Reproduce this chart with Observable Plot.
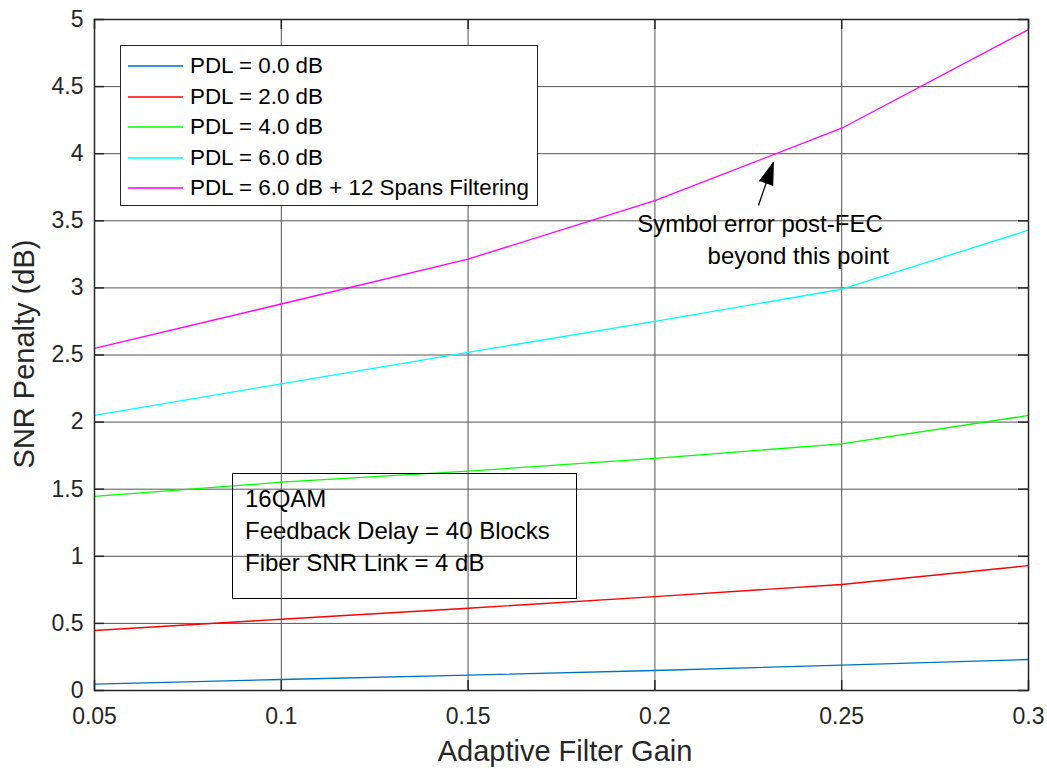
<!DOCTYPE html>
<html>
<head>
<meta charset="utf-8">
<script src="https://cdn.jsdelivr.net/npm/d3@7"></script>
<script src="https://cdn.jsdelivr.net/npm/@observablehq/plot@0.6"></script>
<style>
  body { margin: 0; background: #fff; }
  #wrap { position: relative; width: 1047px; height: 769px; font-family: "Liberation Sans", Arial, Helvetica, sans-serif; }
  #legend { position: absolute; left: 120px; top: 45px; width: 418px; height: 161px; border: 1px solid #262626; background: #fff; box-sizing: border-box; }
  .row { position: absolute; left: 0; height: 30px; display: flex; align-items: center; font-size: 22.4px; color: #000; white-space: nowrap; }
  .row svg { margin-left: 7px; margin-right: 7px; }
  #note { position: absolute; left: 232px; top: 473px; width: 345px; height: 126px; border: 1px solid #000; box-sizing: border-box; font-size: 24px; color: #000; }
  #note div { position: absolute; left: 12px; white-space: nowrap; line-height: 32px; }
  .axlab { position: absolute; font-size: 29px; color: #262626; white-space: nowrap; line-height: 1; }
</style>
</head>
<body>
<div id="wrap"></div>
<script>
const xs = [0.05, 0.1, 0.15, 0.2, 0.25, 0.3];
const seriesNames = ["PDL = 0.0 dB", "PDL = 2.0 dB", "PDL = 4.0 dB", "PDL = 6.0 dB", "PDL = 6.0 dB + 12 Spans Filtering"];
const seriesColors = ["#0072BD", "#FF0000", "#00FF00", "#00FFFF", "#FF00FF"];
const pdl0 = [0.047, 0.082, 0.114, 0.149, 0.189, 0.231];
const pdl2 = [0.447, 0.531, 0.613, 0.700, 0.790, 0.930];
const pdl4 = [1.446, 1.552, 1.634, 1.730, 1.838, 2.050];
const pdl6 = [2.050, 2.285, 2.520, 2.750, 2.990, 3.430];
const pdl6f = [2.550, 2.880, 3.215, 3.650, 4.190, 4.925];
const xTicks = [0.05, 0.1, 0.15, 0.2, 0.25, 0.3];
const xTickLabels = ["0.05", "0.1", "0.15", "0.2", "0.25", "0.3"];
const yTicks = [0, 0.5, 1, 1.5, 2, 2.5, 3, 3.5, 4, 4.5, 5];
const yTickLabels = ["0", "0.5", "1", "1.5", "2", "2.5", "3", "3.5", "4", "4.5", "5"];
const xLabel = "Adaptive Filter Gain";
const yLabel = "SNR Penalty (dB)";
const noteLines = ["16QAM", "Feedback Delay = 40 Blocks", "Fiber SNR Link = 4 dB"];
const annotLines = ["Symbol error post-FEC", "beyond this point"];
const annotX = [0.1953, 0.2141];
const annotY = [3.472, 3.234];
const arrowTail = {x: 0.2277, y: 3.614};
const arrowTip = {x: 0.2317, y: 3.934};

const allSeries = [pdl0, pdl2, pdl4, pdl6, pdl6f];
const table = [];
allSeries.forEach((vals, i) => vals.forEach((v, j) => table.push({x: xs[j], y: v, s: seriesNames[i]})));

const font = '"Liberation Sans", Arial, Helvetica, sans-serif';
const tickLen = 10 / 134.2;   // inner tick length in y units
const tickLenX = 10 / 3736;   // inner tick length in x units

const chart = Plot.plot({
  width: 1047,
  height: 769,
  marginLeft: 94,
  marginRight: 19,
  marginTop: 19,
  marginBottom: 79,
  style: {fontFamily: font, background: "#fff", color: "#000"},
  x: {domain: [0.05, 0.3]},
  y: {domain: [0, 5]},
  color: {domain: seriesNames, range: seriesColors},
  marks: [
    Plot.ruleX(xTicks, {stroke: "#545454", strokeWidth: 1}),
    Plot.ruleY(yTicks, {stroke: "#545454", strokeWidth: 1}),
    Plot.line(table, {x: "x", y: "y", z: "s", stroke: "s", strokeWidth: 1.3}),
    Plot.ruleX(xTicks, {y1: 0, y2: tickLen, stroke: "#262626", strokeWidth: 1.5}),
    Plot.ruleX(xTicks, {y1: 5 - tickLen, y2: 5, stroke: "#262626", strokeWidth: 1.5}),
    Plot.ruleY(yTicks, {x1: 0.05, x2: 0.05 + tickLenX, stroke: "#262626", strokeWidth: 1.5}),
    Plot.ruleY(yTicks, {x1: 0.3 - tickLenX, x2: 0.3, stroke: "#262626", strokeWidth: 1.5}),
    Plot.frame({stroke: "#262626", strokeWidth: 1.5}),
    Plot.axisX(xTicks, {tickSize: 0, tickPadding: 17, fontSize: 23, tickFormat: (d, i) => xTickLabels[i], label: null, fill: "#262626"}),
    Plot.axisY(yTicks, {tickSize: 0, tickPadding: 11, fontSize: 23, tickFormat: (d, i) => yTickLabels[i], label: null, fill: "#262626"}),
    Plot.text(annotLines, {x: (d, i) => annotX[i], y: (d, i) => annotY[i], text: d => d, textAnchor: "start", fontSize: 24, fill: "#000"}),
    Plot.link([arrowTail], {x1: "x", y1: "y", x2: () => arrowTip.x, y2: () => arrowTip.y, stroke: "#000", strokeWidth: 1.3}),
    Plot.vector([arrowTip], {x: "x", y: "y", length: 22, rotate: 19, shape: "spike", r: 7, anchor: "end", fill: "#000", stroke: "#000", strokeWidth: 1})
  ]
});

const wrap = document.getElementById("wrap");
wrap.appendChild(chart);

// axis titles
const xl = document.createElement("div");
xl.className = "axlab";
xl.textContent = xLabel;
xl.style.left = "565px";
xl.style.top = "751px";
xl.style.transform = "translate(-50%, -50%)";
wrap.appendChild(xl);

const yl = document.createElement("div");
yl.className = "axlab";
yl.textContent = yLabel;
yl.style.left = "24px";
yl.style.top = "354px";
yl.style.transform = "translate(-50%, -50%) rotate(-90deg)";
wrap.appendChild(yl);

// legend
const legend = document.createElement("div");
legend.id = "legend";
seriesNames.forEach((name, i) => {
  const row = document.createElement("div");
  row.className = "row";
  row.style.top = (5 + i * 30.5) + "px";
  const svgNS = "http://www.w3.org/2000/svg";
  const sw = document.createElementNS(svgNS, "svg");
  sw.setAttribute("width", "55");
  sw.setAttribute("height", "4");
  const ln = document.createElementNS(svgNS, "line");
  ln.setAttribute("x1", "0"); ln.setAttribute("x2", "55");
  ln.setAttribute("y1", "2"); ln.setAttribute("y2", "2");
  ln.setAttribute("stroke", seriesColors[i]);
  ln.setAttribute("stroke-width", "1.3");
  sw.appendChild(ln);
  const tx = document.createElement("span");
  tx.textContent = name;
  row.appendChild(sw);
  row.appendChild(tx);
  legend.appendChild(row);
});
wrap.appendChild(legend);

// annotation box
const note = document.createElement("div");
note.id = "note";
noteLines.forEach((t, i) => {
  const d = document.createElement("div");
  d.style.top = (9 + i * 32) + "px";
  d.textContent = t;
  note.appendChild(d);
});
wrap.appendChild(note);
</script>
</body>
</html>
